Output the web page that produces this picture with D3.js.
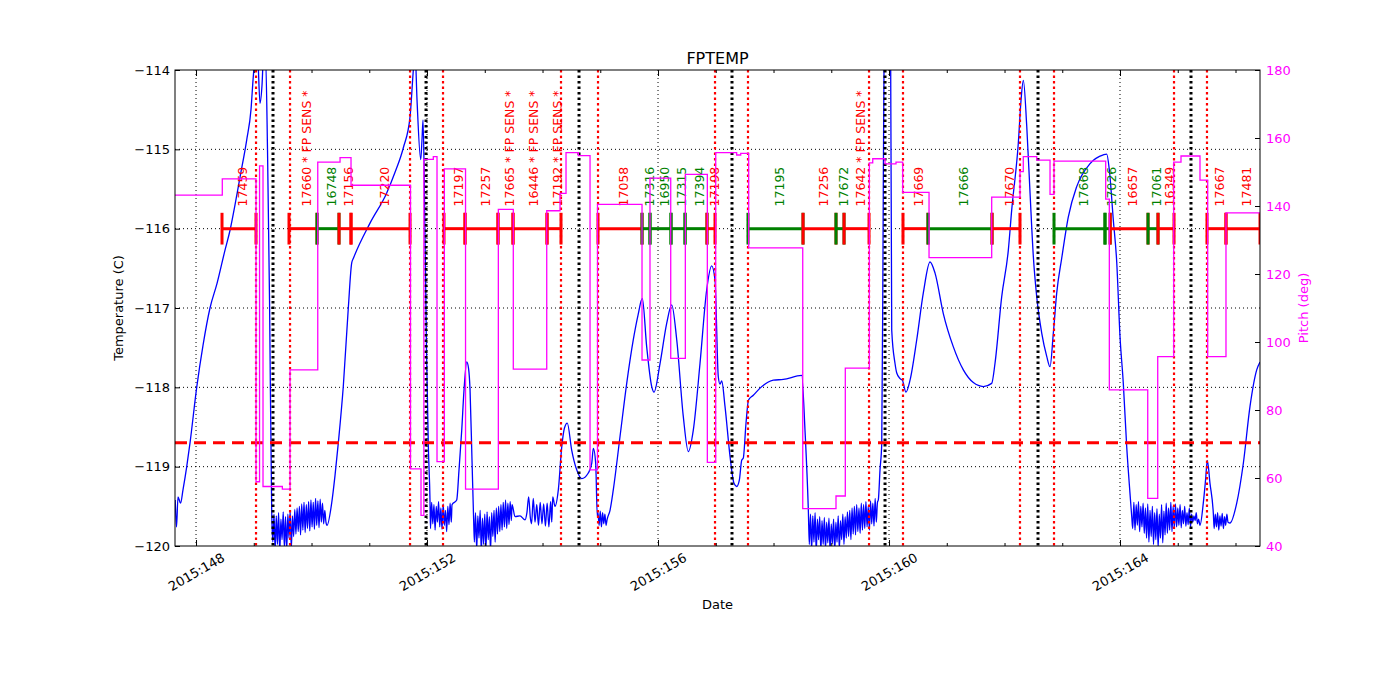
<!DOCTYPE html>
<html><head><meta charset="utf-8">
<script src="https://cdn.jsdelivr.net/npm/d3@7"></script>
<style>body{margin:0;background:#fff;} svg text{font-family:"DejaVu Sans",sans-serif;}</style>
</head><body><svg id="c" width="1400" height="700"></svg>
<script>
// ---------------- DATA ----------------
const xDomain = [147.636, 166.424];
const tempDomain = [-120, -114];
const pitchDomain = [40, 180];
const tempTicks = [-120, -119, -118, -117, -116, -115, -114];
const pitchTicks = [40, 60, 80, 100, 120, 140, 160, 180];
const dayTicks = [148,149,150,151,152,153,154,155,156,157,158,159,160,161,162,163,164,165,166];
const majorDays = [148, 152, 156, 160, 164];
const xTickLabels = ["2015:148", "2015:152", "2015:156", "2015:160", "2015:164"];
const limitLevels = [-118.7];
const barLevels = [-116, -115.72];

// FPTEMP (day of year, deg C)
const tempPoints = [
[147.640,-119.42],[147.662,-119.76],[147.688,-119.38],[147.732,-119.46],[147.775,-119.29],[147.839,-119.00],
[147.896,-118.70],[148.012,-118.00],[148.121,-117.47],[148.242,-117.00],[148.364,-116.69],[148.502,-116.27],
[148.589,-116.02],[148.675,-115.70],[148.762,-115.35],[148.878,-114.88],[148.952,-114.50],[148.992,-114.08],
[149.030,-113.81],[149.065,-113.81],[149.108,-114.42],[149.143,-114.19],[149.169,-113.81],[149.203,-113.81],
[149.238,-115.01],[149.273,-116.90],[149.311,-119.58],
[149.33,-119.95],[149.35,-119.60],[149.37,-120.05],[149.39,-119.62],[149.41,-119.98],[149.43,-119.58],[149.45,-120.08],
[149.47,-119.66],[149.49,-119.92],[149.51,-119.57],[149.53,-120.02],[149.55,-119.63],[149.57,-120.06],[149.59,-119.60],
[149.61,-119.90],[149.63,-119.55],[149.65,-120.04],[149.67,-119.62],[149.69,-119.88],[149.71,-119.54],[149.73,-119.85],
[149.75,-119.52],[149.77,-119.82],[149.79,-119.50],[149.81,-119.86],[149.83,-119.47],[149.85,-119.80],[149.87,-119.45],
[149.89,-119.83],[149.91,-119.48],[149.93,-119.78],[149.95,-119.44],[149.97,-119.81],[149.99,-119.42],[150.01,-119.76],
[150.03,-119.45],[150.05,-119.79],[150.07,-119.40],[150.09,-119.74],[150.11,-119.43],[150.13,-119.77],[150.15,-119.41],
[150.17,-119.70],[150.19,-119.46],[150.21,-119.72],[150.23,-119.55],[150.25,-119.70],
[150.268,-119.74],[150.349,-119.46],[150.407,-119.11],[150.464,-118.70],[150.550,-117.99],[150.637,-117.00],
[150.696,-116.43],[150.727,-116.37],[151.013,-115.93],[151.302,-115.55],[151.446,-115.29],[151.590,-114.98],
[151.706,-114.59],[151.763,-114.00],[151.792,-113.75],[151.827,-114.38],[151.891,-115.13],[151.913,-114.88],
[151.931,-114.63],[151.957,-115.64],[151.991,-117.53],[152.023,-118.75],[152.052,-119.44],
[152.06,-119.78],[152.08,-119.45],[152.10,-119.72],[152.12,-119.48],[152.14,-119.80],[152.16,-119.50],[152.18,-119.70],
[152.20,-119.44],[152.22,-119.76],[152.24,-119.52],[152.26,-119.79],[152.28,-119.47],[152.30,-119.74],[152.32,-119.55],
[152.34,-119.82],[152.36,-119.50],[152.38,-119.73],[152.40,-119.46],[152.42,-119.70],
[152.433,-119.48],[152.514,-119.42],[152.554,-119.04],[152.601,-118.54],[152.641,-118.03],[152.688,-117.68],
[152.719,-117.76],[152.745,-118.03],[152.779,-118.92],[152.805,-119.61],
[152.82,-119.95],[152.84,-119.58],[152.86,-120.05],[152.88,-119.62],[152.90,-119.90],[152.92,-119.55],[152.94,-120.08],
[152.96,-119.65],[152.98,-119.98],[153.00,-119.60],[153.02,-120.05],[153.04,-119.57],[153.06,-119.92],[153.08,-119.63],
[153.10,-120.06],[153.12,-119.58],[153.14,-119.88],[153.16,-119.55],[153.18,-119.95],[153.20,-119.52],[153.22,-119.85],
[153.24,-119.50],[153.26,-119.82],[153.28,-119.48],[153.30,-119.80],[153.32,-119.45],[153.34,-119.76],[153.36,-119.42],
[153.38,-119.78],[153.40,-119.46],[153.42,-119.73],[153.44,-119.44],[153.46,-119.68],
[153.472,-119.48],[153.524,-119.63],[153.610,-119.62],[153.697,-119.67],
[153.73,-119.58],[153.76,-119.38],[153.79,-119.65],[153.81,-119.72],[153.84,-119.40],[153.87,-119.70],[153.90,-119.48],
[153.93,-119.74],[153.96,-119.45],[153.99,-119.72],[154.02,-119.47],[154.05,-119.75],[154.08,-119.46],[154.11,-119.76],
[154.14,-119.44],[154.16,-119.70],
[154.177,-119.38],[154.216,-119.50],[154.274,-119.29],[154.333,-118.75],[154.381,-118.51],[154.429,-118.45],
[154.505,-118.79],[154.592,-119.04],[154.678,-119.15],[154.793,-119.08],[154.852,-118.96],[154.880,-118.77],
[154.921,-118.96],[154.949,-119.63],
[154.96,-119.58],[154.98,-119.74],[155.00,-119.56],[155.02,-119.76],[155.04,-119.58],[155.06,-119.72],[155.08,-119.60],
[155.10,-119.74],
[155.117,-119.67],[155.169,-119.55],[155.226,-119.29],[155.342,-118.62],[155.458,-117.95],[155.572,-117.40],
[155.654,-117.09],[155.728,-116.88],[155.804,-117.49],[155.891,-117.99],[155.931,-118.06],[156.035,-117.70],
[156.151,-117.19],[156.237,-116.96],[156.324,-117.40],[156.438,-118.37],[156.525,-118.81],[156.611,-118.54],
[156.727,-117.70],[156.843,-116.77],[156.929,-116.47],[156.987,-116.65],[157.044,-117.87],[157.074,-117.96],
[157.103,-117.92],[157.160,-118.24],[157.247,-118.87],[157.316,-119.21],[157.363,-119.25],[157.408,-119.17],
[157.449,-118.92],[157.477,-118.89],[157.524,-118.45],[157.567,-118.16],[157.650,-118.10],[157.766,-118.01],
[157.997,-117.91],[158.170,-117.90],[158.488,-117.85],[158.545,-118.54],[158.603,-119.55],
[158.62,-119.98],[158.64,-119.60],[158.66,-120.05],[158.68,-119.62],[158.70,-119.95],[158.72,-119.58],[158.74,-120.08],
[158.76,-119.66],[158.78,-119.92],[158.80,-119.63],[158.82,-120.06],[158.84,-119.68],[158.86,-119.98],[158.88,-119.64],
[158.90,-120.04],[158.92,-119.70],[158.94,-119.96],[158.96,-119.65],[158.98,-120.08],[159.00,-119.72],[159.02,-119.97],
[159.04,-119.66],[159.06,-120.06],[159.08,-119.70],[159.10,-119.95],[159.12,-119.62],[159.14,-120.04],[159.16,-119.68],
[159.18,-119.92],[159.20,-119.60],[159.22,-119.98],[159.24,-119.63],[159.26,-119.90],[159.28,-119.57],[159.30,-119.88],
[159.32,-119.55],[159.34,-119.92],[159.36,-119.52],[159.38,-119.85],[159.40,-119.50],[159.42,-119.86],[159.44,-119.48],
[159.46,-119.82],[159.48,-119.52],[159.50,-119.84],[159.52,-119.46],[159.54,-119.80],[159.56,-119.48],[159.58,-119.78],
[159.60,-119.44],[159.62,-119.76],[159.64,-119.50],[159.66,-119.80],[159.68,-119.43],[159.70,-119.72],[159.72,-119.46],
[159.74,-119.75],[159.76,-119.40],[159.78,-119.70],[159.80,-119.45],
[159.815,-119.42],[159.844,-119.04],[159.874,-118.71],[159.896,-116.27],[159.913,-114.00],[159.948,-113.62],
[160.000,-113.62],[160.029,-114.00],[160.047,-117.28],[160.104,-117.70],[160.134,-117.82],[160.191,-117.89],
[160.231,-117.91],[160.294,-118.06],[160.364,-117.91],[160.480,-117.40],[160.594,-116.81],[160.710,-116.42],
[160.797,-116.56],[160.940,-117.07],[161.114,-117.49],[161.287,-117.78],[161.460,-117.94],[161.633,-117.99],
[161.778,-117.95],[161.835,-117.70],[161.951,-116.86],[162.066,-116.27],[162.125,-115.76],[162.239,-114.92],
[162.286,-114.38],[162.326,-114.13],[162.385,-114.71],[162.442,-115.55],[162.499,-116.35],[162.558,-116.86],
[162.645,-117.32],[162.731,-117.61],[162.788,-117.74],[162.845,-117.32],[162.904,-116.81],[162.991,-116.37],
[163.105,-115.85],[163.250,-115.47],[163.481,-115.18],[163.711,-115.07],[163.770,-115.06],[163.815,-115.26],
[163.884,-115.89],[163.943,-116.42],[164.000,-117.36],[164.057,-117.95],[164.116,-118.75],[164.173,-119.34],
[164.203,-119.63],
[164.22,-119.78],[164.24,-119.45],[164.26,-119.80],[164.28,-119.48],[164.30,-119.74],[164.32,-119.44],[164.34,-119.82],
[164.36,-119.50],[164.38,-119.76],[164.40,-119.46],[164.42,-119.84],[164.44,-119.52],[164.46,-119.90],[164.48,-119.47],
[164.50,-119.95],[164.52,-119.55],[164.54,-119.88],[164.56,-119.50],[164.58,-119.98],[164.60,-119.58],[164.62,-119.92],
[164.64,-119.53],[164.66,-120.02],[164.68,-119.60],[164.70,-119.90],[164.72,-119.48],[164.74,-119.96],[164.76,-119.56],
[164.78,-119.86],[164.80,-119.46],[164.82,-119.84],[164.84,-119.52],[164.86,-119.80],[164.88,-119.45],[164.90,-119.82],
[164.92,-119.50],[164.94,-119.78],[164.96,-119.47],[164.98,-119.76],[165.00,-119.52],[165.02,-119.74],[165.04,-119.48],
[165.06,-119.77],[165.08,-119.55],[165.10,-119.72],[165.12,-119.50],[165.14,-119.75],[165.16,-119.58],[165.18,-119.73],
[165.20,-119.52],[165.22,-119.76],[165.24,-119.60],[165.26,-119.70],[165.28,-119.62],[165.30,-119.68],[165.32,-119.58],
[165.34,-119.72],[165.36,-119.66],
[165.385,-119.74],[165.442,-119.46],[165.481,-119.17],[165.512,-118.92],[165.558,-119.21],[165.616,-119.59],
[165.63,-119.78],[165.65,-119.60],[165.67,-119.76],[165.69,-119.58],[165.71,-119.80],[165.73,-119.62],[165.75,-119.75],
[165.77,-119.59],[165.79,-119.78],[165.81,-119.63],[165.83,-119.74],[165.85,-119.60],[165.87,-119.70],
[165.905,-119.71],[166.021,-119.46],[166.135,-118.96],[166.251,-118.24],[166.367,-117.78],[166.424,-117.68]
];

// Pitch (day, deg) — value holds until next time
const pitchPoints = [
[147.636,143.2],[148.455,148.0],[149.039,58.9],[149.100,151.8],[149.160,57.5],[149.495,56.7],[149.628,91.8],
[150.108,152.9],[150.494,154.2],[150.684,146.1],[151.714,62.7],[151.896,49.0],[151.945,153.7],[152.109,154.5],
[152.173,64.8],[152.300,150.9],[152.667,56.7],[153.235,139.0],[153.494,92.0],[154.073,138.6],[154.303,143.7],
[154.407,155.7],[154.620,154.8],[154.823,62.4],[154.952,140.5],[155.723,94.7],[155.861,148.2],[156.220,95.2],
[156.473,149.3],[156.854,64.6],[156.999,155.7],[157.362,155.0],[157.432,155.5],[157.570,127.7],[158.506,51.0],
[159.082,54.7],[159.243,92.3],[159.659,152.7],[159.718,153.9],[159.931,152.4],[160.121,152.9],[160.237,144.0],
[160.693,124.8],[161.778,142.6],[162.268,150.1],[162.325,154.5],[162.558,153.5],[162.788,143.4],[162.857,153.2],
[163.752,142.0],[163.815,85.9],[164.480,54.0],[164.653,95.7],[164.930,152.9],[165.056,154.7],[165.385,147.6],
[165.518,95.7],[165.835,138.0],[166.424,138.0]
];

// Observations: start, stop, label, kind
const obsStart = [148.450,149.610,150.095,150.476,150.684,152.294,152.658,153.229,153.489,154.078,154.961,155.723,155.861,156.225,156.468,156.848,157.558,158.511,159.082,159.221,160.242,160.675,161.784,162.857,163.740,163.830,164.485,164.658,165.506,165.835];
const obsStop  = [149.039,150.095,150.476,150.684,151.706,152.658,153.229,153.489,154.078,154.320,155.723,155.861,156.225,156.468,156.848,156.987,158.511,159.082,159.221,159.654,160.675,161.784,162.268,163.740,163.830,164.485,164.658,164.935,165.835,166.424];
const obsLabels = ["17459","17660 * FP SENS *","16748","17156","17220","17197","17257","17665 * FP SENS *","16446 * FP SENS *","17192 * FP SENS *","17058","17316","16950","17315","17394","17198","17195","17256","17672","17642 * FP SENS *","17669","17666","17670","17668","17026","16657","17061","16349","17667","17481"];
const obsKind = ["r","r","g","r","r","r","r","r","r","r","r","g","g","g","g","r","g","r","g","r","r","g","r","g","g","r","g","r","r","r"];

// Radiation zone boundaries and perigee times
const radzoneTimes = [149.039,149.628,151.706,152.277,154.320,154.961,156.987,157.558,159.654,160.242,162.268,162.857,164.935,165.506];
const perigeeTimes = [149.333,151.983,154.632,157.281,159.931,162.580,165.229];

// ---------------- CHART ----------------
(function(){
const barTemp = barLevels[0];
const labelTemp = barLevels[1];
const limitTemp = limitLevels[0];
const M = {l:175, r:1260, t:70, b:546};
const svg = d3.select("#c");
const x = d3.scaleLinear().domain(xDomain).range([M.l, M.r]);
const yT = d3.scaleLinear().domain(tempDomain).range([M.b, M.t]);
const yP = d3.scaleLinear().domain(pitchDomain).range([M.b, M.t]);
const colorOf = {r:"#ff0000", g:"#008000"};

svg.append("defs").append("clipPath").attr("id","clip")
  .append("rect").attr("x",M.l).attr("y",M.t).attr("width",M.r-M.l).attr("height",M.b-M.t);

const plot = svg.append("g").attr("clip-path","url(#clip)");

// grid
plot.selectAll(".hg").data(tempTicks.slice(1,-1)).enter().append("line")
  .attr("x1",M.l).attr("x2",M.r).attr("y1",d=>yT(d)).attr("y2",d=>yT(d))
  .attr("stroke","#000").attr("stroke-width",1).attr("stroke-dasharray","1,3");
plot.selectAll(".vg").data(majorDays).enter().append("line")
  .attr("y1",M.t).attr("y2",M.b).attr("x1",d=>x(d)).attr("x2",d=>x(d))
  .attr("stroke","#000").attr("stroke-width",1).attr("stroke-dasharray","1,3");

// temperature
plot.append("path").datum(tempPoints)
  .attr("d", d3.line().x(d=>x(d[0])).y(d=>yT(d[1])).curve(d3.curveMonotoneX))
  .attr("fill","none").attr("stroke","#0000ff").attr("stroke-width",1.3);

// planning limit
plot.append("line").attr("x1",M.l).attr("x2",M.r)
  .attr("y1",yT(limitTemp)).attr("y2",yT(limitTemp))
  .attr("stroke","#ff0000").attr("stroke-width",3).attr("stroke-dasharray","12,7");

// radzone lines
plot.selectAll(".rz").data(radzoneTimes).enter().append("line")
  .attr("x1",d=>x(d)).attr("x2",d=>x(d)).attr("y1",M.t).attr("y2",M.b)
  .attr("stroke","#ff0000").attr("stroke-width",2.2).attr("stroke-dasharray","2.5,3");
plot.selectAll(".pg").data(perigeeTimes).enter().append("line")
  .attr("x1",d=>x(d)).attr("x2",d=>x(d)).attr("y1",M.t).attr("y2",M.b)
  .attr("stroke","#000").attr("stroke-width",3).attr("stroke-dasharray","2.5,3");

// observation bars
const obsRows = obsStart.map((s,i)=>({s, e:obsStop[i], label:obsLabels[i], c:colorOf[obsKind[i]]}));
const ob = plot.append("g");
obsRows.forEach(o=>{
  ob.append("line").attr("x1",x(o.s)).attr("x2",x(o.e)).attr("y1",yT(barTemp)).attr("y2",yT(barTemp))
    .attr("stroke",o.c).attr("stroke-width",3);
  [o.s,o.e].forEach(t=>{
    ob.append("line").attr("x1",x(t)).attr("x2",x(t)).attr("y1",yT(barTemp+0.2)).attr("y2",yT(barTemp-0.2))
      .attr("stroke",o.c).attr("stroke-width",3);
  });
  ob.append("text").attr("transform",`translate(${x((o.s+o.e)/2)+8},${yT(labelTemp)}) rotate(-90)`)
    .attr("text-anchor","start").attr("font-size",12.5).attr("fill",o.c).text(o.label);
});

// pitch
plot.append("path").datum(pitchPoints)
  .attr("d", d3.line().x(d=>x(d[0])).y(d=>yP(d[1])).curve(d3.curveStepAfter))
  .attr("fill","none").attr("stroke","#ff00ff").attr("stroke-width",1.3);

// frame
svg.append("rect").attr("x",M.l).attr("y",M.t).attr("width",M.r-M.l).attr("height",M.b-M.t)
  .attr("fill","none").attr("stroke","#000").attr("stroke-width",1);

// axes
const fontFam = "DejaVu Sans, sans-serif";
const gL = svg.append("g").attr("transform",`translate(${M.l},0)`)
  .call(d3.axisLeft(yT).tickValues(tempTicks).tickSize(-5).tickPadding(5).tickFormat(d3.format("d")));
gL.select(".domain").remove();
gL.attr("font-size",13).attr("font-family",fontFam);
gL.selectAll("text").attr("fill","#000");

const gR = svg.append("g").attr("transform",`translate(${M.r},0)`)
  .call(d3.axisRight(yP).tickValues(pitchTicks).tickSize(-5).tickPadding(6).tickFormat(d3.format("d")));
gR.select(".domain").remove();
gR.attr("font-size",13).attr("font-family",fontFam);
gR.selectAll("text").attr("fill","#ff00ff");

const gB = svg.append("g").attr("transform",`translate(0,${M.b})`)
  .call(d3.axisBottom(x).tickValues(dayTicks).tickSize(-4)
    .tickFormat(d=>{const i=majorDays.indexOf(d); return i>=0 ? xTickLabels[i] : "";}));
gB.select(".domain").remove();
gB.attr("font-size",13).attr("font-family",fontFam);
gB.selectAll(".tick line").attr("y2",d=>majorDays.includes(d)?-6:-3);
gB.selectAll("text").attr("fill","#000").attr("y",26).attr("dy","0.35em")
  .attr("text-anchor","middle").attr("transform","rotate(-30,0,26)");

const gT = svg.append("g").attr("transform",`translate(0,${M.t})`)
  .call(d3.axisTop(x).tickValues(dayTicks).tickSize(-4).tickFormat(""));
gT.select(".domain").remove();
gT.selectAll(".tick line").attr("y2",d=>majorDays.includes(d)?6:3);

// titles
svg.append("text").attr("x",(M.l+M.r)/2).attr("y",64).attr("text-anchor","middle")
  .attr("font-size",16).attr("fill","#000").text("FPTEMP");
svg.append("text").attr("x",(M.l+M.r)/2).attr("y",609).attr("text-anchor","middle")
  .attr("font-size",13).attr("fill","#000").text("Date");
svg.append("text").attr("transform",`translate(123,${(M.t+M.b)/2}) rotate(-90)`).attr("text-anchor","middle")
  .attr("font-size",13).attr("fill","#000").text("Temperature (C)");
svg.append("text").attr("transform",`translate(1308,${(M.t+M.b)/2}) rotate(-90)`).attr("text-anchor","middle")
  .attr("font-size",13).attr("fill","#ff00ff").text("Pitch (deg)");
})();
</script>
</body></html>
